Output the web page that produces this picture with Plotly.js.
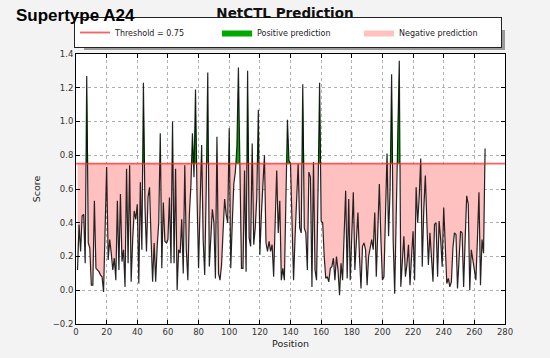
<!DOCTYPE html>
<html>
<head>
<meta charset="utf-8">
<script src="https://cdn.plot.ly/plotly-3.0.1.min.js"></script>
<style>html,body{margin:0;padding:0;background:#f3f3f3;}#chart{width:550px;height:358px;}</style>
</head>
<body>
<div id="chart"></div>
<script>
// ---- data ----
const threshold = 0.75;
const scores = [
 0.12,0.39,0.23,0.44,0.45,0.16,1.27,0.28,0.25,0.03,
 0.03,0.53,0.13,0.12,0.11,0.09,0.08,-0.01,0.35,0.73,
 0.18,0.30,0.22,0.12,0.19,0.06,0.53,0.12,0.57,0.17,
 0.24,0.02,0.72,0.16,0.74,0.05,0.30,0.47,0.42,0.51,
 0.04,0.64,0.24,1.23,0.50,0.23,0.55,0.61,0.30,0.05,
 0.28,0.05,0.26,0.40,0.93,0.13,0.52,0.29,0.28,0.30,
 0.55,0.16,1.00,0.16,0.72,0.00,0.24,0.22,0.42,0.10,
 0.74,0.24,0.06,0.45,0.62,0.93,0.67,1.19,0.55,0.13,
 0.50,0.86,0.30,0.09,0.60,1.29,0.14,0.30,0.48,0.40,
 0.07,0.91,0.10,0.06,0.15,0.35,0.54,0.45,0.40,0.96,
 0.13,0.40,0.63,0.70,0.85,1.32,0.60,0.13,0.13,0.71,
 0.11,1.30,0.31,0.26,0.87,0.27,0.37,0.55,1.07,0.21,
 0.45,0.65,0.80,0.28,0.23,0.29,0.23,0.27,0.08,0.40,
 0.71,0.34,0.53,0.06,0.13,0.06,0.55,1.01,0.77,0.75,
 0.40,0.06,0.32,0.50,0.75,0.37,0.34,1.22,0.37,0.34,
 0.12,0.70,0.67,0.02,0.76,0.12,0.06,0.60,1.23,0.41,
 0.40,0.20,0.07,0.08,0.05,0.13,0.14,0.19,0.06,0.20,
 0.12,-0.03,0.16,0.06,0.40,0.59,0.07,0.54,0.06,0.30,
 0.58,0.12,0.26,0.46,0.20,0.01,0.26,0.28,0.24,0.03,
 0.20,0.26,0.30,0.24,0.46,0.08,0.40,0.63,0.30,0.06,
 0.08,0.40,0.81,0.32,0.60,1.28,0.30,-0.02,0.50,1.00,
 1.36,0.02,0.20,0.32,0.08,0.15,0.27,0.03,0.20,0.35,
 0.06,0.61,0.40,0.55,0.78,0.14,0.48,0.68,0.40,0.15,
 0.34,0.20,0.05,0.39,0.40,0.08,0.41,0.30,0.14,0.49,
 0.20,0.04,0.07,0.02,0.05,0.25,0.34,0.33,0.01,0.20,
 0.35,0.34,0.02,0.30,0.56,0.51,0.00,0.24,0.17,0.12,
 0.06,0.30,0.58,0.03,0.30,0.22,0.84
];
const positions = scores.map((_, i) => i + 1);
const xAxisRange = [0, 280];
const yAxisRange = [-0.2, 1.4];
const xTicks = [0,20,40,60,80,100,120,140,160,180,200,220,240,260,280];
const yTicks = [-0.2,0.0,0.2,0.4,0.6,0.8,1.0,1.2,1.4];

// ---- insert threshold crossings so fills meet the line exactly ----
const fx = [], fy = [];
for (let i = 0; i < scores.length; i++) {
  if (i > 0) {
    const a = scores[i-1] - threshold, b = scores[i] - threshold;
    if (a * b < 0) {
      const t = (threshold - scores[i-1]) / (scores[i] - scores[i-1]);
      fx.push(positions[i-1] + t * (positions[i] - positions[i-1]));
      fy.push(threshold);
    }
  }
  fx.push(positions[i]); fy.push(scores[i]);
}
const base = fx.map(() => threshold);
const negY = fy.map(v => Math.min(v, threshold));
const posY = fy.map(v => Math.max(v, threshold));

const traces = [
  {x: fx, y: base, mode: 'lines', line: {width: 0}, showlegend: false, hoverinfo: 'skip'},
  {x: fx, y: negY, mode: 'lines', line: {width: 0}, fill: 'tonexty', fillcolor: '#ffc0c0',
   name: 'Negative prediction', legendrank: 3},
  {x: fx, y: base, mode: 'lines', line: {width: 0}, showlegend: false, hoverinfo: 'skip'},
  {x: fx, y: posY, mode: 'lines', line: {width: 0}, fill: 'tonexty', fillcolor: '#00a800',
   name: 'Positive prediction', legendrank: 2},
  {x: positions, y: scores, mode: 'lines', line: {color: 'rgba(0,0,0,0.85)', width: 1.2},
   showlegend: false, name: 'Score'},
  {x: xAxisRange, y: [threshold, threshold], mode: 'lines',
   line: {color: 'rgba(255,40,40,0.75)', width: 1.8}, name: 'Threshold = ' + threshold, legendrank: 1}
];

const axisFont = {family: 'DejaVu Sans', size: 8.5, color: '#333'};
const layout = {
  width: 550, height: 358,
  margin: {l: 76, r: 45, t: 54, b: 34, autoexpand: false},
  paper_bgcolor: '#f3f3f3', plot_bgcolor: '#ffffff',
  title: {text: '<b>NetCTL Prediction</b>', font: {family: 'DejaVu Sans', size: 13.5, color: '#111'},
          x: 285/550, xanchor: 'center', y: 1 - 13/358, yanchor: 'middle'},
  xaxis: {range: xAxisRange, tickvals: xTicks, ticktext: xTicks.map(String),
          ticks: 'inside', ticklen: 4, tickcolor: '#000', showline: true, linecolor: '#000', linewidth: 1,
          mirror: 'ticks', showgrid: true, gridcolor: '#b0b0b0', griddash: 'dot', gridwidth: 1,
          zeroline: false, tickfont: axisFont,
          title: {text: 'Position', font: {family: 'DejaVu Sans', size: 9.5, color: '#222'}, standoff: 4}},
  yaxis: {range: yAxisRange, tickvals: yTicks, tickformat: '.1f',
          ticks: 'inside', ticklen: 4, tickcolor: '#000', showline: true, linecolor: '#000', linewidth: 1,
          mirror: 'ticks', showgrid: true, gridcolor: '#b0b0b0', griddash: 'dot', gridwidth: 1,
          zeroline: false, tickfont: axisFont,
          title: {text: 'Score', font: {family: 'DejaVu Sans', size: 9.5, color: '#222'}, standoff: 10}},
  legend: {orientation: 'h', x: 1 - 3/429, xanchor: 'right', y: 1 + 6/270, yanchor: 'bottom',
           bgcolor: '#ffffff', bordercolor: '#222', borderwidth: 1,
           font: {family: 'DejaVu Sans', size: 8, color: '#222'},
           traceorder: 'normal', entrywidth: 97, itemwidth: 30},
  shapes: [{type: 'rect', xref: 'paper', yref: 'paper', layer: 'below',
            x0: 84/429 - 76/429 + 0, x1: 1 + 0/429, y0: 1 + 4/270, y1: 1 + 24/270,
            fillcolor: '#9a9a9a', line: {width: 0}}],
  annotations: [{text: '<b>Supertype A24</b>', xref: 'paper', yref: 'paper',
                 x: -62/429, y: 1 + 38/270, xanchor: 'left', yanchor: 'middle', showarrow: false,
                 font: {family: 'Liberation Sans', size: 17, color: '#000'}}],
  showlegend: true
};

Plotly.newPlot('chart', traces, layout, {displayModeBar: false, staticPlot: true});
</script>
</body>
</html>
